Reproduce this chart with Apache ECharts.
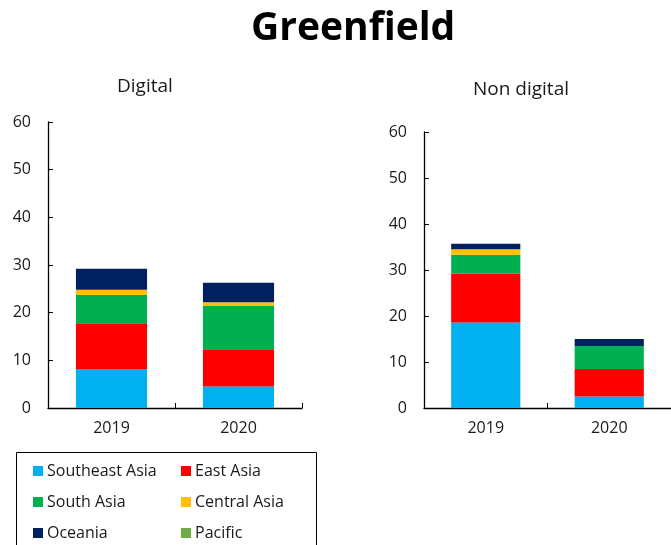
<!DOCTYPE html>
<html><head><meta charset="utf-8">
<script src="https://cdn.jsdelivr.net/npm/echarts@6/dist/echarts.min.js"></script>
<style>html,body{margin:0;padding:0;background:#fff}#c{width:671px;height:545px}</style>
</head><body><div id="c"></div>
<script>
const years = ['2019', '2020'];
const regions = ['Southeast Asia', 'East Asia', 'South Asia', 'Central Asia', 'Oceania', 'Pacific'];
const regionColors = ['#00B0F0', '#FF0000', '#00B050', '#FFC000', '#002060', '#70AD47'];
// Digital values [2019, 2020]
const digitalSoutheastAsia = [8.2, 4.5];
const digitalEastAsia = [9.6, 7.8];
const digitalSouthAsia = [5.9, 9.1];
const digitalCentralAsia = [1.1, 0.8];
const digitalOceania = [4.4, 4.1];
const digitalPacific = [0, 0];
// Non digital values [2019, 2020]
const nonDigitalSoutheastAsia = [18.6, 2.5];
const nonDigitalEastAsia = [10.6, 6.0];
const nonDigitalSouthAsia = [4.1, 5.0];
const nonDigitalCentralAsia = [1.2, 0];
const nonDigitalOceania = [1.2, 1.5];
const nonDigitalPacific = [0, 0];
const yTicks = [0, 10, 20, 30, 40, 50, 60];

const digital = [digitalSoutheastAsia, digitalEastAsia, digitalSouthAsia, digitalCentralAsia, digitalOceania, digitalPacific];
const nonDigital = [nonDigitalSoutheastAsia, nonDigitalEastAsia, nonDigitalSouthAsia, nonDigitalCentralAsia, nonDigitalOceania, nonDigitalPacific];

const FONT = 'Open Sans';
const txt = '#1a1a1a';
function xAxis(i) {
  return {
    type: 'category', gridIndex: i, data: years,
    axisLine: {lineStyle: {color: '#000', width: 1.3}},
    axisTick: {show: true, inside: true, length: 5, lineStyle: {color: '#000'}},
    axisLabel: {color: txt, fontFamily: FONT, fontSize: 16, margin: 12}
  };
}
function yAxis(i) {
  return {
    type: 'value', gridIndex: i, min: yTicks[0], max: yTicks[yTicks.length - 1], interval: 10,
    axisLine: {show: true, lineStyle: {color: '#000', width: 1.3}},
    axisTick: {show: true, inside: true, length: 5, lineStyle: {color: '#000'}},
    splitLine: {show: false},
    axisLabel: {color: txt, fontFamily: FONT, fontSize: 16, margin: 17}
  };
}
const series = [];
[digital, nonDigital].forEach((set, gi) => {
  set.forEach((vals, ri) => {
    series.push({
      type: 'bar', name: regions[ri], xAxisIndex: gi, yAxisIndex: gi, stack: 's' + gi,
      data: vals, barWidth: '56%', itemStyle: {color: regionColors[ri]}
    });
  });
});
const legendBase = {
  orient: 'vertical', itemWidth: 10, itemHeight: 10, itemGap: 13, icon: 'rect', padding: 0,
  height: 84, itemStyle: {borderWidth: 0},
  textStyle: {color: txt, fontFamily: FONT, fontSize: 16, lineHeight: 18, padding: [0, 0, 0, -1]},
  selectedMode: false
};
const option = {
  animation: false,
  color: regionColors,
  title: [
    {text: 'Greenfield', left: 246, top: 4,
     textStyle: {fontFamily: FONT, fontWeight: 'bold', fontSize: 39, color: '#000'}},
    {text: 'Digital', left: 112, top: 72,
     textStyle: {fontFamily: FONT, fontWeight: 'normal', fontSize: 19, color: txt}},
    {text: 'Non digital', left: 468, top: 75,
     textStyle: {fontFamily: FONT, fontWeight: 'normal', fontSize: 19, color: txt}}
  ],
  grid: [
    {left: 48, top: 122, width: 254, height: 286},
    {left: 424, top: 132, width: 254, height: 276}
  ],
  xAxis: [xAxis(0), xAxis(1)],
  yAxis: [yAxis(0), yAxis(1)],
  legend: [
    Object.assign({left: 33, top: 462, data: [regions[0], regions[2], regions[4]]}, legendBase),
    Object.assign({left: 181, top: 462, data: [regions[1], regions[3], regions[5]]}, legendBase)
  ],
  graphic: [{type: 'rect', shape: {x: 16.5, y: 452.5, width: 300, height: 110},
             style: {fill: 'none', stroke: '#000', lineWidth: 1}}],
  series: series
};
const chart = echarts.init(document.getElementById('c'), null, {renderer: 'canvas'});
chart.setOption(option);
</script></body></html>
